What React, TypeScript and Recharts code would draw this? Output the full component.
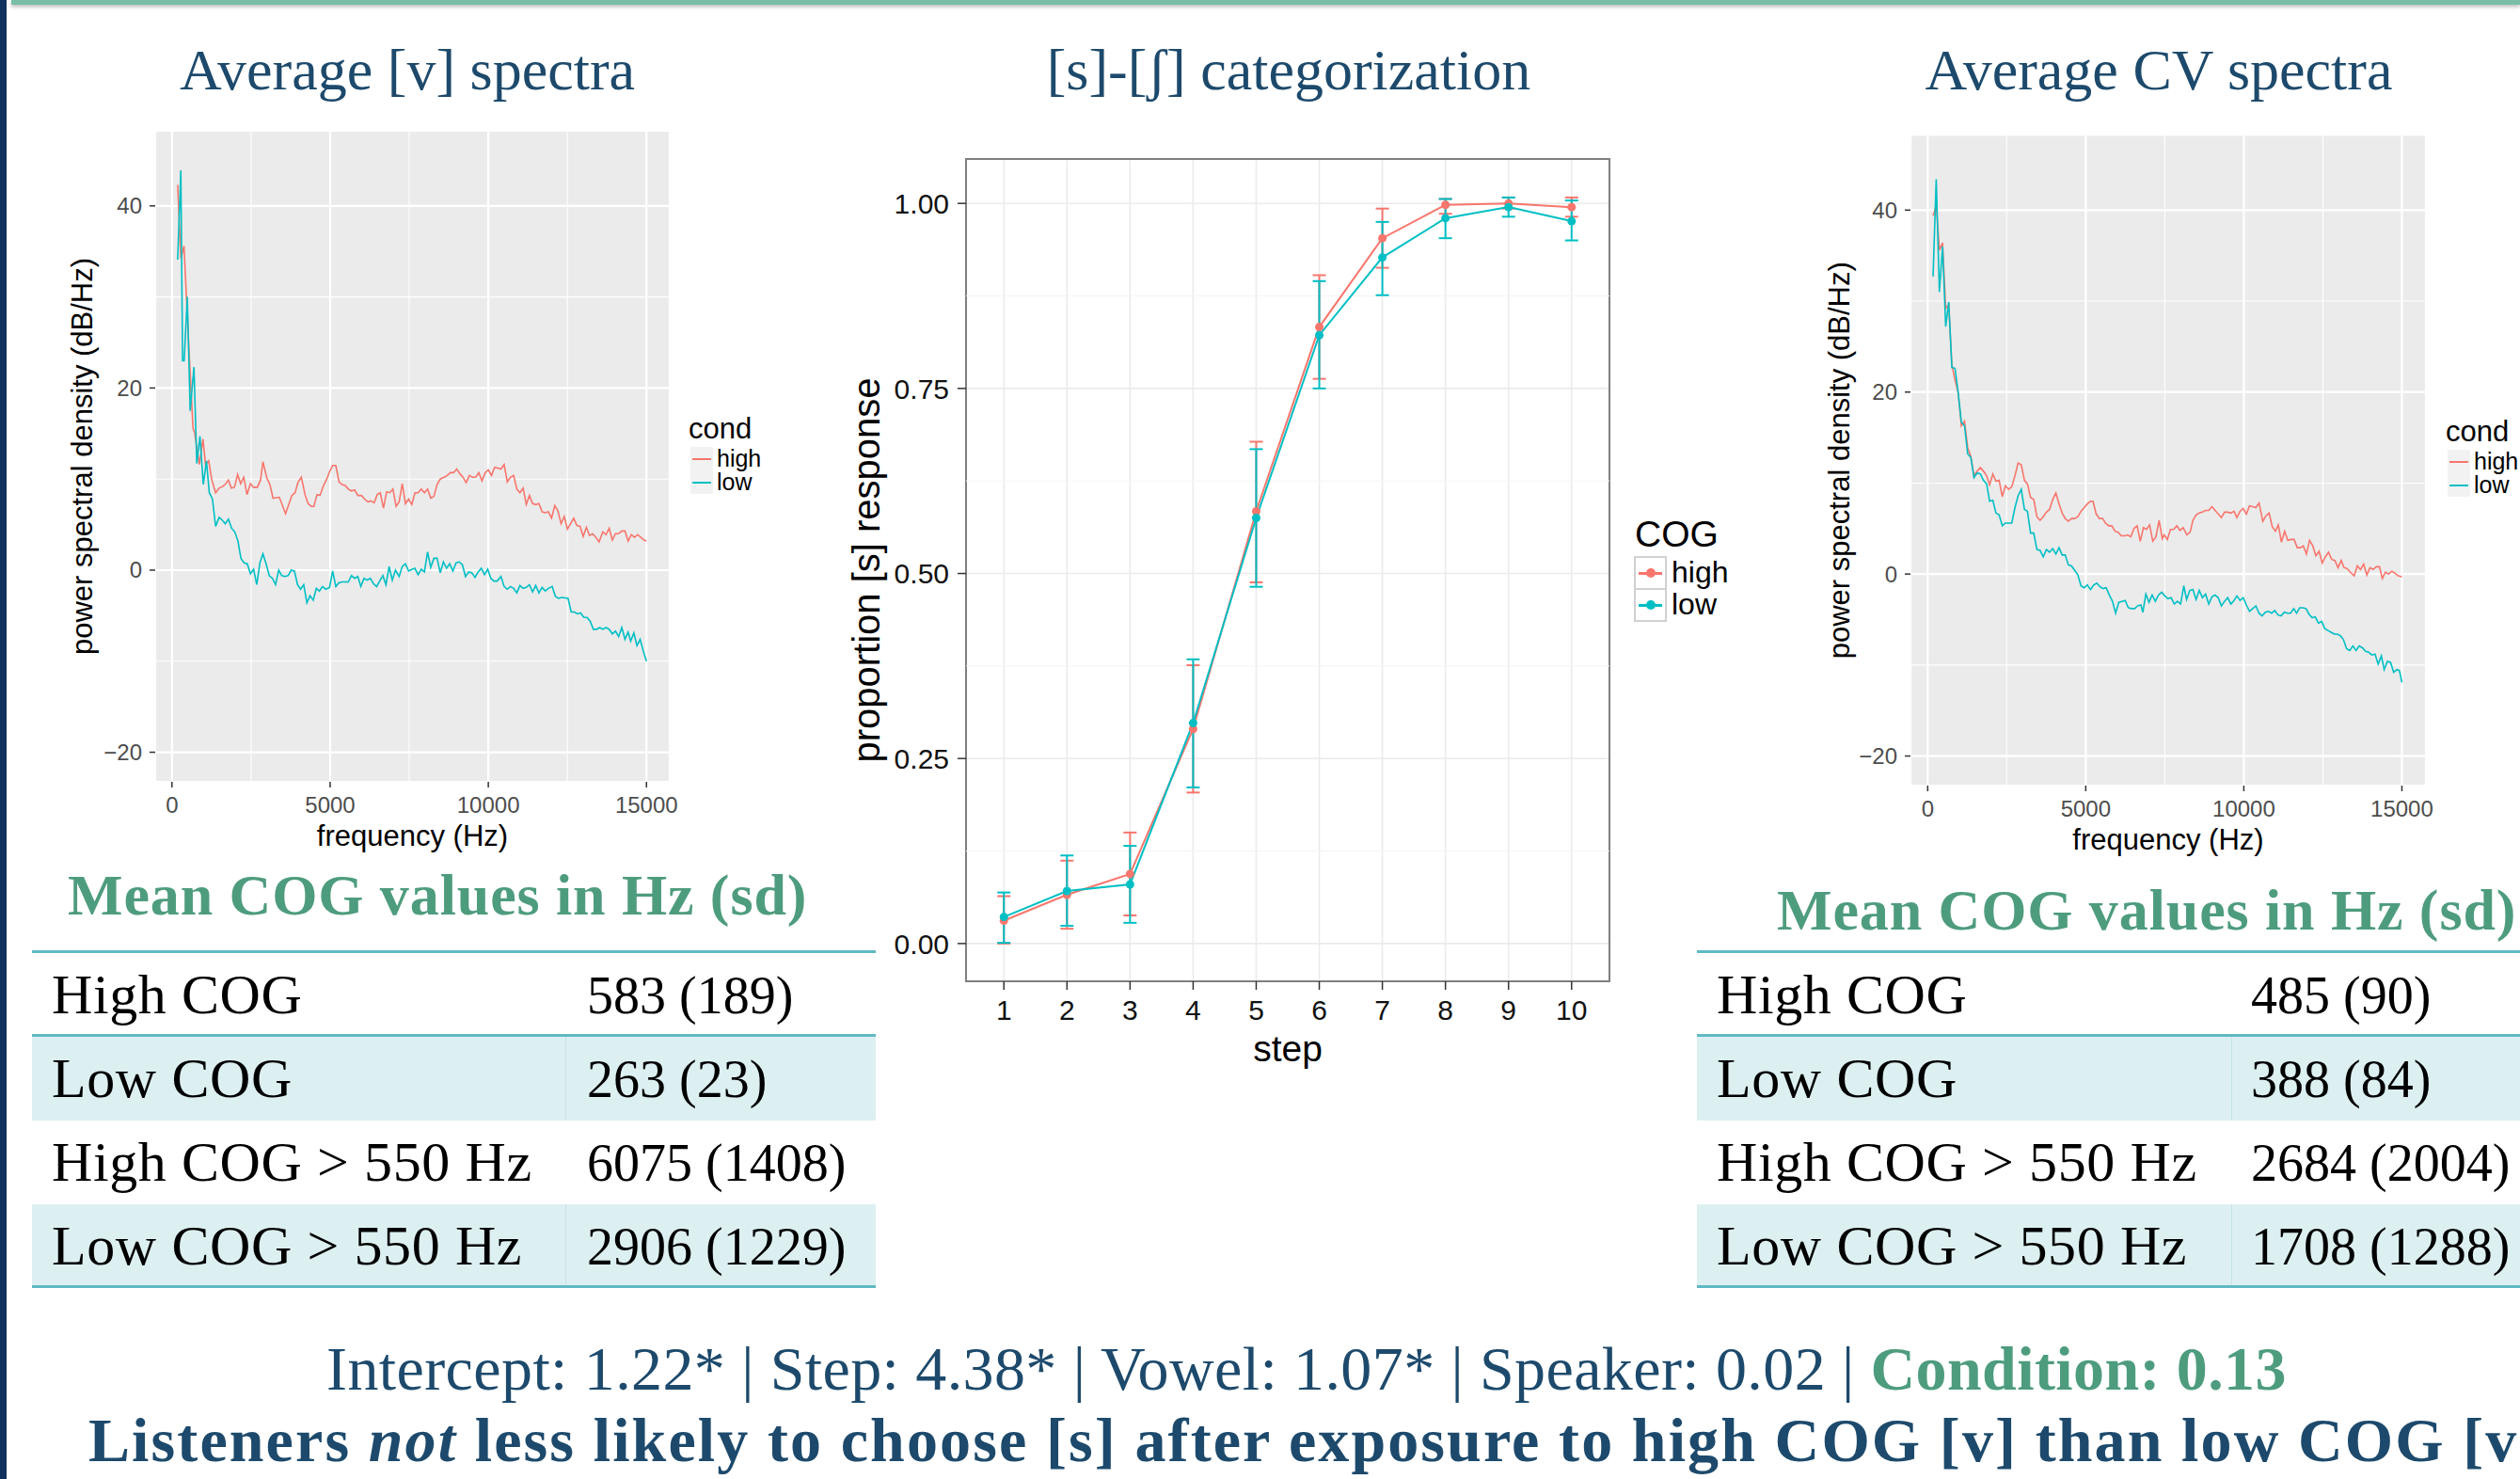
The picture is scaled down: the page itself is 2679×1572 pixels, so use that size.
import React from "react";
import {
  CartesianGrid,
  ErrorBar,
  Label,
  Legend,
  Line,
  LineChart,
  ReferenceArea,
  ReferenceLine,
  XAxis,
  YAxis,
} from "recharts";

const NAVY = "#1d4a6c";
const GREEN = "#4e9c7e";
const TEAL_LINE = "#5fb9c3";
const TEAL_FILL = "#ddf0f1";
const RED = "#F8766D";
const CYAN = "#00BFC4";
const SANS = '"Liberation Sans", Arial, Helvetica, sans-serif';
const SERIF = '"Liberation Serif", "Times New Roman", serif';

// ---- spectra: [frequency Hz, dB/Hz] ----
const vHigh: [number, number][] = [
  [180, 42.3], [280, 34.2], [380, 35.6], [520, 25.4], [665, 15.6], [715, 15.1], [865, 11.6], [980, 14.4],
  [1060, 11.6], [1160, 12.0], [1260, 9.9], [1380, 8.5], [1490, 9.0], [1610, 9.2], [1705, 9.5], [1785, 9.9],
  [1875, 9.0], [1975, 9.1], [2075, 10.5], [2170, 9.5], [2270, 10.2], [2370, 8.3], [2480, 9.5], [2580, 9.1],
  [2700, 9.1], [2800, 9.9], [2875, 11.9], [3000, 10.1], [3095, 9.4], [3195, 7.9], [3395, 8.0], [3590, 6.2],
  [3790, 8.2], [3890, 8.5], [3990, 9.7], [4090, 10.2], [4205, 8.3], [4305, 7.3], [4405, 7.0], [4485, 7.0],
  [4585, 8.3], [4680, 8.2], [4780, 9.2], [4880, 9.9], [4980, 10.8], [5080, 11.5], [5180, 11.5], [5280, 9.7],
  [5375, 9.4], [5475, 9.3], [5575, 8.9], [5675, 8.7], [5775, 8.8], [5875, 8.2], [5990, 8.2], [6090, 7.8],
  [6190, 7.5], [6290, 7.6], [6390, 7.4], [6490, 8.3], [6585, 8.5], [6685, 6.8], [6785, 8.6], [6885, 8.5],
  [6985, 8.9], [7085, 7.0], [7180, 7.5], [7280, 9.5], [7380, 7.3], [7480, 7.8], [7580, 7.2], [7680, 8.5],
  [7780, 8.5], [7880, 8.9], [7980, 8.5], [8080, 8.9], [8180, 7.9], [8280, 8.1], [8380, 9.4], [8480, 10.0],
  [8600, 10.2], [8700, 10.4], [8800, 10.7], [8900, 10.7], [9000, 11.1], [9100, 10.6], [9200, 10.2], [9300, 9.6],
  [9400, 10.4], [9500, 10.2], [9600, 10.2], [9700, 10.7], [9800, 9.8], [9900, 10.7], [10000, 11.0], [10100, 10.4],
  [10200, 11.3], [10300, 11.2], [10400, 11.1], [10500, 11.6], [10600, 9.7], [10700, 10.2], [10800, 10.4], [10900, 8.9],
  [11000, 8.5], [11100, 9.0], [11200, 7.2], [11300, 8.2], [11400, 7.3], [11500, 7.2], [11600, 7.3], [11700, 6.4],
  [11800, 6.3], [11900, 6.4], [12000, 5.7], [12100, 7.1], [12200, 6.5], [12300, 5.1], [12400, 5.9], [12500, 4.5],
  [12600, 5.1], [12700, 5.7], [12800, 4.9], [12900, 4.8], [13000, 3.7], [13100, 4.7], [13200, 3.8], [13300, 4.0],
  [13400, 3.6], [13500, 3.1], [13620, 4.2], [13720, 3.9], [13820, 4.6], [13920, 3.3], [14020, 4.0], [14120, 4.0],
  [14220, 4.3], [14320, 4.3], [14420, 3.2], [14520, 3.9], [14620, 3.6], [14720, 3.9], [14820, 3.6], [14920, 3.3],
  [15000, 3.2],
];

const vLow: [number, number][] = [
  [180, 34.1], [280, 43.9], [335, 23.0], [385, 23.0], [485, 30.0], [575, 17.5], [695, 22.3], [785, 11.7],
  [885, 14.7], [990, 9.4], [1090, 12.0], [1180, 8.5], [1280, 7.8], [1380, 4.8], [1490, 5.8], [1585, 5.5],
  [1685, 5.1], [1785, 5.6], [1885, 4.6], [1985, 4.2], [2085, 3.2], [2180, 1.3], [2280, 0.8], [2380, 0.7],
  [2480, -0.4], [2580, 0.1], [2680, -1.6], [2780, 0.8], [2875, 1.8], [2975, 0.7], [3075, -0.6], [3175, -0.9],
  [3275, -1.6], [3375, 0.0], [3470, -0.6], [3570, -0.7], [3670, -0.6], [3770, 0.0], [3870, -0.1], [3970, -1.6],
  [4065, -2.1], [4165, -1.6], [4265, -3.6], [4365, -2.8], [4465, -3.3], [4565, -2.0], [4660, -2.3], [4760, -1.8],
  [4860, -2.1], [4980, -1.9], [5080, -0.1], [5180, -1.8], [5275, -1.4], [5375, -1.3], [5475, -1.3], [5575, -1.3],
  [5675, -0.6], [5775, -0.9], [5875, -0.7], [5970, -1.8], [6070, -0.9], [6170, -1.1], [6270, -0.9], [6370, -1.5],
  [6470, -1.8], [6565, -1.2], [6665, -0.6], [6765, -1.6], [6865, 0.4], [6965, -1.1], [7065, 0.0], [7180, -0.7],
  [7280, 0.4], [7380, 0.7], [7480, -0.1], [7600, 0.1], [7680, 0.2], [7780, -0.5], [7880, 0.1], [7980, -0.2],
  [8080, 2.0], [8180, 0.3], [8280, 1.3], [8380, 1.3], [8480, -0.3], [8580, 0.9], [8680, 0.2], [8780, 0.7],
  [8880, -0.1], [8980, 0.8], [9080, 0.9], [9180, 0.6], [9280, -0.7], [9380, -0.2], [9480, -0.3], [9580, -0.8],
  [9680, -0.2], [9780, 0.2], [9880, -0.5], [9980, 0.1], [10080, -0.9], [10180, -1.2], [10280, -1.2], [10400, -0.7],
  [10500, -1.8], [10600, -2.1], [10700, -1.8], [10800, -2.0], [10900, -2.5], [11000, -1.7], [11100, -2.0], [11200, -1.9],
  [11300, -1.6], [11400, -2.4], [11500, -1.7], [11600, -2.5], [11700, -1.9], [11800, -2.3], [11900, -2.0], [12020, -1.8],
  [12120, -2.9], [12220, -3.1], [12320, -3.0], [12520, -3.1], [12620, -4.6], [12720, -4.6], [12820, -4.8], [12920, -4.7],
  [13020, -5.2], [13120, -5.2], [13220, -5.6], [13320, -6.5], [13420, -6.5], [13520, -6.3], [13620, -6.5], [13720, -6.3],
  [13820, -6.5], [13920, -7.0], [14020, -6.7], [14120, -7.3], [14220, -6.3], [14320, -7.6], [14420, -6.8], [14500, -7.8],
  [14600, -6.9], [14700, -8.3], [14800, -7.6], [14900, -8.9], [15000, -10.0],
];

const cvHigh: [number, number][] = [
  [170, 39.4], [220, 39.9], [270, 40.6], [370, 35.6], [470, 36.4], [570, 29.2], [665, 29.6], [765, 23.0],
  [865, 21.3], [965, 19.9], [1065, 16.3], [1165, 16.8], [1265, 13.9], [1365, 12.9], [1465, 10.8], [1565, 11.3],
  [1665, 11.7], [1765, 11.3], [1865, 10.8], [1960, 9.8], [2060, 11.0], [2160, 10.2], [2260, 10.3], [2360, 8.5],
  [2460, 9.7], [2560, 9.3], [2660, 9.6], [2760, 10.8], [2860, 12.2], [2960, 12.0], [3060, 10.3], [3155, 9.9],
  [3255, 8.4], [3355, 8.2], [3455, 6.3], [3555, 5.9], [3655, 6.3], [3755, 6.8], [3855, 7.1], [3955, 8.2],
  [4055, 8.9], [4155, 7.7], [4255, 6.7], [4350, 6.1], [4450, 5.8], [4550, 6.1], [4650, 6.1], [4750, 6.3],
  [4850, 6.9], [4950, 7.3], [5050, 7.7], [5150, 8.0], [5230, 8.0], [5330, 6.6], [5430, 6.1], [5530, 6.1],
  [5625, 5.6], [5725, 5.3], [5825, 5.3], [5925, 4.7], [6025, 4.6], [6125, 4.2], [6225, 4.2], [6325, 4.3],
  [6425, 4.1], [6525, 5.0], [6625, 5.3], [6725, 3.6], [6825, 5.1], [6920, 4.9], [7020, 5.4], [7120, 3.6],
  [7220, 4.1], [7320, 5.9], [7420, 3.9], [7480, 4.3], [7580, 3.8], [7680, 4.9], [7780, 4.9], [7880, 5.3],
  [7980, 4.8], [8080, 5.1], [8200, 4.3], [8300, 4.6], [8390, 5.9], [8490, 6.5], [8590, 6.7], [8690, 6.8],
  [8790, 7.0], [8890, 7.0], [8990, 7.4], [9090, 7.0], [9190, 6.6], [9290, 6.2], [9390, 6.8], [9490, 6.8],
  [9590, 6.7], [9690, 6.9], [9780, 6.2], [9880, 6.9], [9980, 7.2], [10080, 6.6], [10180, 7.5], [10280, 7.4],
  [10380, 7.3], [10480, 7.8], [10600, 5.8], [10700, 6.4], [10800, 6.7], [10900, 5.2], [11000, 4.7], [11090, 5.4],
  [11190, 3.5], [11290, 4.7], [11390, 3.7], [11490, 3.8], [11590, 3.8], [11690, 2.9], [11790, 2.9], [11880, 3.1],
  [11980, 2.2], [12080, 3.7], [12180, 3.1], [12280, 2.0], [12380, 2.5], [12480, 1.2], [12580, 1.9], [12680, 2.4],
  [12780, 1.6], [12880, 1.5], [12980, 0.7], [13080, 1.5], [13170, 0.7], [13270, 0.6], [13370, 0.2], [13490, -0.2],
  [13590, 0.9], [13690, 0.5], [13790, 1.1], [13890, -0.1], [13990, 0.7], [14090, 0.5], [14190, 0.8], [14290, 0.8],
  [14380, -0.5], [14480, 0.2], [14580, 0.0], [14680, 0.3], [14780, 0.1], [14880, -0.2], [15000, -0.3],
];

const cvLow: [number, number][] = [
  [170, 32.7], [270, 43.4], [370, 31.0], [470, 36.0], [570, 27.2], [665, 29.9], [765, 22.7], [865, 22.6],
  [965, 19.9], [1065, 16.7], [1165, 16.3], [1265, 13.2], [1365, 12.8], [1465, 10.6], [1565, 11.1], [1665, 11.0],
  [1765, 10.3], [1865, 9.9], [1960, 8.0], [2060, 8.1], [2160, 6.7], [2260, 6.5], [2360, 5.3], [2460, 5.6],
  [2560, 5.6], [2660, 5.6], [2760, 7.3], [2860, 8.6], [2960, 9.3], [3060, 7.1], [3155, 6.9], [3255, 4.5],
  [3355, 4.5], [3455, 2.7], [3555, 2.6], [3655, 1.9], [3755, 2.7], [3855, 2.4], [3955, 2.8], [4055, 2.2],
  [4155, 2.9], [4255, 2.1], [4350, 2.1], [4450, 1.0], [4550, 0.9], [4650, 0.4], [4750, -0.1], [4850, -1.3],
  [4950, -1.5], [5050, -1.2], [5150, -1.7], [5250, -1.2], [5350, -1.0], [5450, -1.4], [5545, -1.6], [5645, -1.5],
  [5745, -2.3], [5845, -3.0], [5945, -4.3], [6045, -3.1], [6145, -3.0], [6245, -2.9], [6345, -3.7], [6445, -3.8],
  [6545, -3.8], [6645, -3.5], [6745, -3.4], [6805, -4.2], [6900, -2.2], [7000, -3.1], [7100, -2.3], [7200, -3.0],
  [7300, -2.3], [7400, -2.0], [7500, -2.4], [7600, -2.7], [7700, -2.6], [7800, -3.3], [7900, -3.0], [8000, -3.3],
  [8100, -1.3], [8190, -2.8], [8290, -1.8], [8390, -1.7], [8490, -2.8], [8590, -1.8], [8690, -2.6], [8790, -2.2],
  [8890, -3.3], [8990, -2.5], [9090, -2.3], [9190, -2.6], [9290, -3.5], [9390, -3.0], [9490, -2.6], [9590, -3.3],
  [9690, -2.9], [9780, -2.4], [9880, -2.9], [9980, -2.6], [10080, -3.4], [10180, -4.1], [10280, -3.8], [10380, -3.5],
  [10480, -4.3], [10580, -4.6], [10680, -4.2], [10780, -4.1], [10880, -4.3], [10980, -4.0], [11080, -4.5], [11180, -4.6],
  [11280, -4.2], [11380, -4.3], [11480, -4.3], [11580, -3.8], [11670, -4.3], [11770, -3.7], [11870, -3.7], [11970, -3.8],
  [12060, -4.4], [12160, -4.8], [12260, -4.7], [12360, -5.4], [12460, -5.2], [12560, -6.0], [12660, -6.2], [12760, -6.4],
  [12860, -6.6], [12960, -6.6], [13060, -6.8], [13150, -7.2], [13250, -8.2], [13350, -8.4], [13450, -7.9], [13550, -8.4],
  [13650, -7.9], [13750, -8.1], [13850, -8.5], [13950, -8.6], [14050, -8.9], [14150, -8.8], [14250, -9.9], [14350, -9.0],
  [14440, -10.5], [14540, -9.6], [14640, -9.7], [14740, -10.8], [14840, -10.5], [14920, -10.6], [15000, -11.9],
];

const freqTicks = [0, 5000, 10000, 15000];
const freqMinor = [2500, 7500, 12500];
const dbTicks = [-20, 0, 20, 40];
const dbMinor = [-10, 10, 30];
const condNames = ["high", "low"];

// ---- categorization: proportion [s] with error bar ends ----
const steps = [1, 2, 3, 4, 5, 6, 7, 8, 9, 10];
const highMean = [0.031, 0.066, 0.094, 0.29, 0.584, 0.833, 0.953, 0.998, 1.0, 0.995];
const highLower = [0.0, 0.02, 0.038, 0.204, 0.488, 0.763, 0.913, 0.986, 0.993, 0.982];
const highUpper = [0.064, 0.112, 0.15, 0.376, 0.678, 0.903, 0.993, 1.006, 1.008, 1.008];
const lowMean = [0.036, 0.071, 0.08, 0.298, 0.575, 0.822, 0.927, 0.98, 0.995, 0.976];
const lowLower = [0.001, 0.024, 0.028, 0.211, 0.482, 0.75, 0.876, 0.953, 0.982, 0.95];
const lowUpper = [0.069, 0.119, 0.132, 0.384, 0.668, 0.895, 0.975, 1.006, 1.008, 1.004];
const propTicks = [0, 0.25, 0.5, 0.75, 1];
const propMinor = [0.125, 0.375, 0.625, 0.875];

// ---- tables & text ----
const vowelCog = [
  ["High COG", "583 (189)"],
  ["Low COG", "263 (23)"],
  ["High COG > 550 Hz", "6075 (1408)"],
  ["Low COG > 550 Hz", "2906 (1229)"],
];
const cvCog = [
  ["High COG", "485 (90)"],
  ["Low COG", "388 (84)"],
  ["High COG > 550 Hz", "2684 (2004)"],
  ["Low COG > 550 Hz", "1708 (1288)"],
];
const effects = [
  ["Intercept", "1.22*"],
  ["Step", "4.38*"],
  ["Vowel", "1.07*"],
  ["Speaker", "0.02"],
];
const conditionEffect = ["Condition", "0.13"];

const minus = (v: number) => (v < 0 ? `\u2212${Math.abs(v)}` : String(v));

function SpecLegend() {
  return (
    <div style={{ position: "relative", width: 120, height: 100, fontFamily: SANS }}>
      <div style={{ position: "absolute", left: 0, top: 0, fontSize: 31, lineHeight: "40px" }}>cond</div>
      {condNames.map((n, i) => (
        <React.Fragment key={n}>
          <div
            style={{
              position: "absolute",
              left: 2,
              top: 39 + i * 25,
              width: 24,
              height: 25,
              background: "#f2f2f2",
            }}
          >
            <div
              style={{
                position: "absolute",
                left: 2,
                right: 2,
                top: 12,
                height: 1.6,
                background: i === 0 ? RED : CYAN,
              }}
            />
          </div>
          <div style={{ position: "absolute", left: 30, top: 39 + i * 25, fontSize: 25, lineHeight: "25px" }}>{n}</div>
        </React.Fragment>
      ))}
    </div>
  );
}

function SpectrumChart(props: {
  high: [number, number][];
  low: [number, number][];
  left: number;
  top: number;
  width: number;
  height: number;
  margin: { top: number; right: number; bottom: number; left: number };
  yAxisWidth: number;
  xAxisHeight: number;
  xDomain: [number, number];
  legendLeft: number;
  legendTop: number;
  yLabelDx: number;
  xLabelDy: number;
}) {
  const highData = props.high.map(([f, db]) => ({ f, db }));
  const lowData = props.low.map(([f, db]) => ({ f, db }));
  const tick = { fill: "#4d4d4d", fontSize: 24, fontFamily: SANS };
  return (
    <div style={{ position: "absolute", left: props.left, top: props.top }}>
      <LineChart width={props.width} height={props.height} margin={props.margin}>
        <CartesianGrid fill="#ebebeb" fillOpacity={1} stroke="#ffffff" strokeWidth={2.2} />
        {freqMinor.map((v) => (
          <ReferenceLine key={`fx${v}`} x={v} stroke="#ffffff" strokeWidth={1.1} />
        ))}
        {dbMinor.map((v) => (
          <ReferenceLine key={`dy${v}`} y={v} stroke="#ffffff" strokeWidth={1.1} />
        ))}
        <XAxis
          type="number"
          dataKey="f"
          domain={props.xDomain}
          ticks={freqTicks}
          allowDataOverflow
          height={props.xAxisHeight}
          axisLine={false}
          tickLine={{ stroke: "#333333", strokeWidth: 1.5 }}
          tickSize={6}
          tickMargin={10}
          tick={tick}
        >
          <Label
            value="frequency (Hz)"
            position="center"
            dy={props.xLabelDy}
            fill="#000000"
            fontSize={31}
            fontFamily={SANS}
          />
        </XAxis>
        <YAxis
          type="number"
          domain={[-23.25, 48.25]}
          ticks={dbTicks}
          allowDataOverflow
          width={props.yAxisWidth}
          axisLine={false}
          tickLine={{ stroke: "#333333", strokeWidth: 1.5 }}
          tickSize={6}
          tickMargin={8}
          tick={tick}
          tickFormatter={minus}
        >
          <Label
            value="power spectral density (dB/Hz)"
            angle={-90}
            position="center"
            dx={props.yLabelDx}
            fill="#000000"
            fontSize={31}
            fontFamily={SANS}
          />
        </YAxis>
        <Line
          data={highData}
          dataKey="db"
          stroke={RED}
          strokeWidth={1.6}
          dot={false}
          activeDot={false}
          isAnimationActive={false}
        />
        <Line
          data={lowData}
          dataKey="db"
          stroke={CYAN}
          strokeWidth={1.6}
          dot={false}
          activeDot={false}
          isAnimationActive={false}
        />
        <Legend
          layout="vertical"
          align="center"
          verticalAlign="middle"
          wrapperStyle={{ left: props.legendLeft, top: props.legendTop, width: 120, height: 100 }}
          content={() => <SpecLegend />}
        />
      </LineChart>
    </div>
  );
}

function CogLegend() {
  return (
    <div style={{ position: "relative", width: 110, height: 120, fontFamily: SANS }}>
      <div style={{ position: "absolute", left: 1, top: 0, fontSize: 39, lineHeight: "46px" }}>COG</div>
      {condNames.map((n, i) => {
        const c = i === 0 ? RED : CYAN;
        return (
          <React.Fragment key={n}>
            <div
              style={{
                position: "absolute",
                left: 0,
                top: 46 + i * 34,
                width: 35,
                height: 36,
                boxSizing: "border-box",
                border: "2px solid #d0d0d0",
                background: "#ffffff",
              }}
            >
              <div style={{ position: "absolute", left: 3, right: 3, top: 15, height: 2.5, background: c }} />
              <div
                style={{
                  position: "absolute",
                  left: 11,
                  top: 11,
                  width: 10,
                  height: 10,
                  borderRadius: 5,
                  background: c,
                }}
              />
            </div>
            <div style={{ position: "absolute", left: 40, top: 46 + i * 34, fontSize: 32, lineHeight: "35px" }}>{n}</div>
          </React.Fragment>
        );
      })}
    </div>
  );
}

function CategorizationChart() {
  const data = steps.map((s, i) => ({
    step: s,
    high: highMean[i],
    low: lowMean[i],
    highErr: [highMean[i] - highLower[i], highUpper[i] - highMean[i]],
    lowErr: [lowMean[i] - lowLower[i], lowUpper[i] - lowMean[i]],
  }));
  const tick = { fill: "#111111", fontSize: 30, fontFamily: SANS };
  return (
    <div style={{ position: "absolute", left: 850, top: 140 }}>
      <LineChart width={1000} height={1000} margin={{ top: 29, right: 139, bottom: 0, left: 0 }} data={data}>
        <CartesianGrid stroke="#ebebeb" strokeWidth={1.6} />
        {propMinor.map((v) => (
          <ReferenceLine key={`py${v}`} y={v} stroke="#f4f4f4" strokeWidth={1} />
        ))}
        <XAxis
          type="number"
          dataKey="step"
          domain={[0.4, 10.6]}
          ticks={steps}
          allowDataOverflow
          height={97}
          axisLine={false}
          tickLine={{ stroke: "#333333", strokeWidth: 1.5 }}
          tickSize={9}
          tickMargin={11}
          tick={tick}
        >
          <Label value="step" position="center" dy={23} fill="#000000" fontSize={39} fontFamily={SANS} />
        </XAxis>
        <YAxis
          type="number"
          domain={[-0.051, 1.06]}
          ticks={propTicks}
          allowDataOverflow
          width={177}
          axisLine={false}
          tickLine={{ stroke: "#333333", strokeWidth: 1.5 }}
          tickSize={9}
          tickMargin={9}
          tick={tick}
          tickFormatter={(v: number) => v.toFixed(2)}
        >
          <Label
            value="proportion [s] response"
            angle={-90}
            position="center"
            dx={-18}
            fill="#000000"
            fontSize={40}
            fontFamily={SANS}
          />
        </YAxis>
        <Line
          dataKey="high"
          stroke={RED}
          strokeWidth={2}
          dot={{ r: 4.5, fill: RED, stroke: RED, strokeWidth: 0 }}
          activeDot={false}
          isAnimationActive={false}
        >
          <ErrorBar dataKey="highErr" width={7} stroke={RED} strokeWidth={2} isAnimationActive={false} />
        </Line>
        <Line
          dataKey="low"
          stroke={CYAN}
          strokeWidth={2}
          dot={{ r: 4.5, fill: CYAN, stroke: CYAN, strokeWidth: 0 }}
          activeDot={false}
          isAnimationActive={false}
        >
          <ErrorBar dataKey="lowErr" width={7} stroke={CYAN} strokeWidth={2} isAnimationActive={false} />
        </Line>
        <ReferenceArea x1={0.4} x2={10.6} y1={-0.051} y2={1.06} fill="none" stroke="#7f7f7f" strokeWidth={2} />
        <Legend
          layout="vertical"
          align="center"
          verticalAlign="middle"
          wrapperStyle={{ left: 887, top: 405, width: 110, height: 120 }}
          content={() => <CogLegend />}
        />
      </LineChart>
    </div>
  );
}

function CogTable({
  rows,
  left,
  width,
  divider,
  valueX,
}: {
  rows: string[][];
  left: number;
  width: number;
  divider: number;
  valueX: number;
}) {
  return (
    <div
      style={{
        position: "absolute",
        left,
        top: 1010,
        width,
        borderTop: `3px solid ${TEAL_LINE}`,
        fontFamily: SERIF,
        color: "#000000",
      }}
    >
      {rows.map((r, i) => (
        <div
          key={r[0]}
          style={{
            position: "relative",
            height: 89,
            boxSizing: "border-box",
            background: i % 2 === 1 ? TEAL_FILL : "#ffffff",
            borderBottom: i === 0 || i === rows.length - 1 ? `3px solid ${TEAL_LINE}` : "none",
          }}
        >
          {i % 2 === 1 && (
            <div style={{ position: "absolute", left: divider, top: 0, bottom: 0, width: 1, background: "#c4e3e6" }} />
          )}
          <div
            style={{
              position: "absolute",
              left: 21,
              top: 64 - 0.8375 * 60,
              fontSize: 60,
              lineHeight: "60px",
              letterSpacing: 0.6,
              whiteSpace: "nowrap",
            }}
          >
            {r[0]}
          </div>
          <div
            style={{
              position: "absolute",
              left: valueX,
              top: 64 - 0.8375 * 56,
              fontSize: 56,
              lineHeight: "56px",
              whiteSpace: "nowrap",
            }}
          >
            {r[1]}
          </div>
        </div>
      ))}
    </div>
  );
}

const titleStyle = (cx: number): React.CSSProperties => ({
  position: "absolute",
  left: cx - 400,
  width: 800,
  top: 95 - 0.8375 * 62,
  textAlign: "center",
  fontFamily: SERIF,
  fontSize: 62,
  lineHeight: "62px",
  color: NAVY,
  whiteSpace: "nowrap",
});

const tableTitle = (left: number, baseline: number): React.CSSProperties => ({
  position: "absolute",
  left,
  top: baseline - 0.8375 * 62,
  fontFamily: SERIF,
  fontWeight: 700,
  fontSize: 62,
  lineHeight: "62px",
  letterSpacing: 0.9,
  color: GREEN,
  whiteSpace: "nowrap",
});

export default function App() {
  return (
    <div
      style={{
        position: "absolute",
        left: 0,
        top: 0,
        width: 2679,
        height: 1572,
        overflow: "hidden",
        background: "#ffffff",
      }}
    >
      <div style={{ position: "absolute", left: 0, top: 0, width: 7, height: 1572, background: "#10305e" }} />
      <div
        style={{
          position: "absolute",
          left: 12,
          top: 0,
          width: 2667,
          height: 5,
          background: "#78bea8",
          boxShadow: "0 2px 4px rgba(0,0,0,0.3)",
        }}
      />

      <div style={titleStyle(433)}>Average [v] spectra</div>
      <div style={titleStyle(1370)}>[s]-[ʃ] categorization</div>
      <div style={titleStyle(2295)}>Average CV spectra</div>

      <SpectrumChart
        high={vHigh}
        low={vLow}
        left={40}
        top={120}
        width={860}
        height={800}
        margin={{ top: 19, right: 188, bottom: 0, left: 0 }}
        yAxisWidth={125}
        xAxisHeight={89}
        xDomain={[-530, 15735]}
        legendLeft={692}
        legendTop={316}
        yLabelDx={-16}
        xLabelDy={12}
      />
      <CategorizationChart />
      <SpectrumChart
        high={cvHigh}
        low={cvLow}
        left={1900}
        top={120}
        width={779}
        height={800}
        margin={{ top: 23.5, right: 100, bottom: 0, left: 0 }}
        yAxisWidth={131}
        xAxisHeight={85}
        xDomain={[-545, 15760]}
        legendLeft={700}
        legendTop={319}
        yLabelDx={-11}
        xLabelDy={14}
      />

      <div style={tableTitle(72, 972)}>Mean COG values in Hz (sd)</div>
      <CogTable rows={vowelCog} left={34} width={897} divider={567} valueX={590} />
      <div style={tableTitle(1889, 988)}>Mean COG values in Hz (sd)</div>
      <CogTable rows={cvCog} left={1804} width={900} divider={568} valueX={589} />

      <div
        style={{
          position: "absolute",
          left: 347,
          top: 1477 - 0.8375 * 66,
          fontFamily: SERIF,
          fontSize: 66,
          lineHeight: "66px",
          letterSpacing: 0.4,
          color: NAVY,
          whiteSpace: "nowrap",
        }}
      >
        {effects.map(([k, v]) => `${k}: ${v} | `).join("")}
        <span style={{ color: GREEN, fontWeight: 700 }}>
          {conditionEffect[0]}: {conditionEffect[1]}
        </span>
      </div>
      <div
        style={{
          position: "absolute",
          left: 94,
          top: 1553 - 0.8375 * 66,
          fontFamily: SERIF,
          fontWeight: 700,
          fontSize: 66,
          lineHeight: "66px",
          letterSpacing: 2.1,
          color: NAVY,
          whiteSpace: "nowrap",
        }}
      >
        Listeners <i>not</i> less likely to choose [s] after exposure to high COG [v] than low COG [v]
      </div>
    </div>
  );
}
